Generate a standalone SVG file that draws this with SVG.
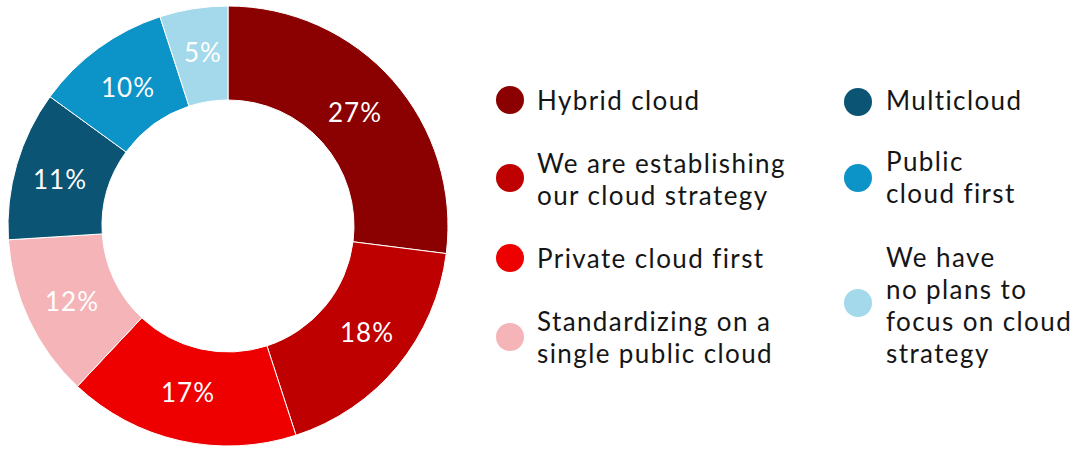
<svg xmlns="http://www.w3.org/2000/svg" width="1078" height="449" viewBox="0 0 1078 449">
<style>
.seg{stroke:#ffffff;stroke-width:1}
.pct{font-family:Lato,"Liberation Sans",sans-serif;font-size:26px;fill:#ffffff;text-anchor:middle;letter-spacing:1px}
.lg{font-family:Lato,"Liberation Sans",sans-serif;font-size:26px;fill:#151515;letter-spacing:1.4px}
.c1{fill:#8b0000}.c2{fill:#be0000}.c3{fill:#ee0000}.c4{fill:#f5b4b7}.c5{fill:#0b5473}.c6{fill:#0c93c7}.c7{fill:#a3d9ea}
</style>
<rect width="1078" height="449" fill="#ffffff"/>
<g id="donut">
<path id="seg-hybrid" class="seg c1" d="M228,6 A220,220 0 0 1 446.26,253.57 L353.01,241.79 A126,126 0 0 0 228,100 Z"/>
<path id="seg-establishing" class="seg c2" d="M446.26,253.57 A220,220 0 0 1 295.98,435.23 L266.94,345.83 A126,126 0 0 0 353.01,241.79 Z"/>
<path id="seg-private" class="seg c3" d="M295.98,435.23 A220,220 0 0 1 77.40,386.37 L141.75,317.85 A126,126 0 0 0 266.94,345.83 Z"/>
<path id="seg-standardizing" class="seg c4" d="M77.40,386.37 A220,220 0 0 1 8.43,239.81 L102.25,233.91 A126,126 0 0 0 141.75,317.85 Z"/>
<path id="seg-multicloud" class="seg c5" d="M8.43,239.81 A220,220 0 0 1 50.02,96.69 L126.06,151.94 A126,126 0 0 0 102.25,233.91 Z"/>
<path id="seg-public" class="seg c6" d="M50.02,96.69 A220,220 0 0 1 160.02,16.77 L189.06,106.17 A126,126 0 0 0 126.06,151.94 Z"/>
<path id="seg-noplans" class="seg c7" d="M160.02,16.77 A220,220 0 0 1 228,6 L228,100 A126,126 0 0 0 189.06,106.17 Z"/>
<text class="pct" x="355" y="122">27%</text>
<text class="pct" x="367" y="342">18%</text>
<text class="pct" x="188" y="402">17%</text>
<text class="pct" x="72" y="311">12%</text>
<text class="pct" x="60" y="189">11%</text>
<text class="pct" x="128" y="97">10%</text>
<text class="pct" x="203" y="62">5%</text>
</g>
<g id="legend-hybrid"><circle class="c1" cx="510" cy="100" r="14"/><text class="lg" x="537" y="110">Hybrid cloud</text></g>
<g id="legend-establishing"><circle class="c2" cx="510" cy="178" r="14"/><text class="lg" x="537" y="173">We are establishing</text><text class="lg" x="537" y="205">our cloud strategy</text></g>
<g id="legend-private"><circle class="c3" cx="510" cy="258" r="14"/><text class="lg" x="537" y="268">Private cloud first</text></g>
<g id="legend-standardizing"><circle class="c4" cx="510" cy="337" r="14"/><text class="lg" x="537" y="331">Standardizing on a</text><text class="lg" x="537" y="363">single public cloud</text></g>
<g id="legend-multicloud"><circle class="c5" cx="858" cy="102" r="14"/><text class="lg" x="886" y="110">Multicloud</text></g>
<g id="legend-public"><circle class="c6" cx="858" cy="178" r="14"/><text class="lg" x="886" y="171">Public</text><text class="lg" x="886" y="203">cloud first</text></g>
<g id="legend-noplans"><circle class="c7" cx="858" cy="303" r="14"/><text class="lg" x="886" y="267">We have</text><text class="lg" x="886" y="299">no plans to</text><text class="lg" x="886" y="331">focus on cloud</text><text class="lg" x="886" y="363">strategy</text></g>
</svg>
